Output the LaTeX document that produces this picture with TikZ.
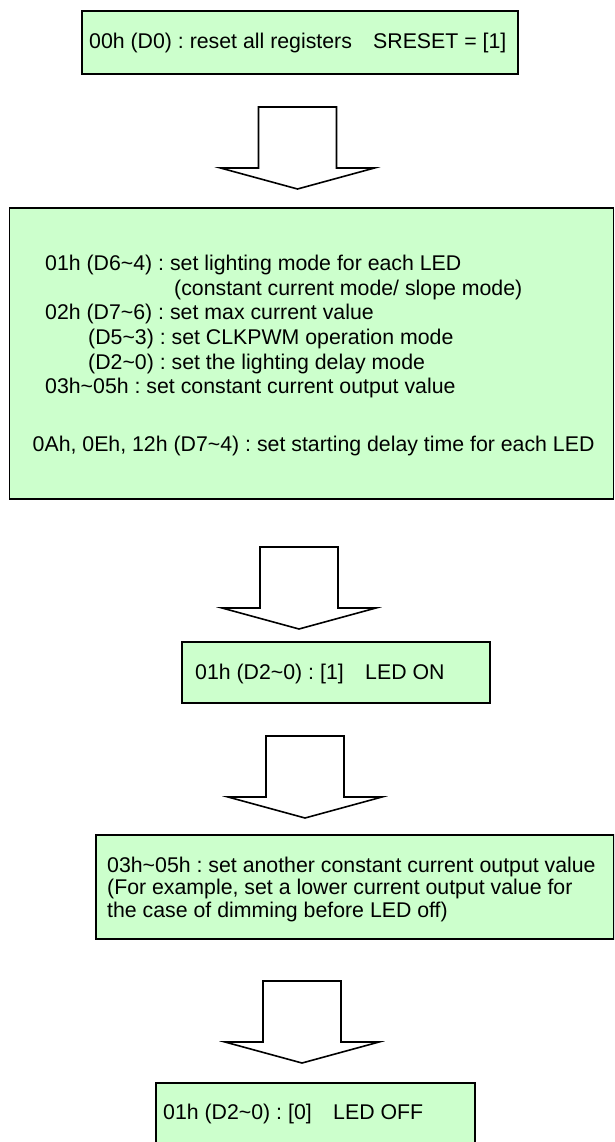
\documentclass[tikz,border=0pt]{standalone}
\usepackage{fontspec}
\setmainfont{Liberation Sans}
\usetikzlibrary{positioning}
\definecolor{boxgreen}{HTML}{CCFFCC}
\newcommand{\rng}{\textasciitilde}
\frenchspacing
\tikzset{
stepbox/.style={
    rectangle,
    draw,
    fill=boxgreen,
    line width=1.7pt,
    anchor=north west,
    inner sep=0pt
},
note/.style={
    anchor=base west,
    inner sep=0pt,
    font=\fontsize{21.3}{24.7}\selectfont
},
fat arrow/.pic={
    \draw[line width=1.6pt, fill=white, line join=miter]
      (0,0) -- (-77,-21) -- (-39,-21) -- (-39,-82) -- (39,-82)
      -- (39,-21) -- (77,-21) -- cycle;
}
}

\begin{document}
\begin{tikzpicture}[x=1pt,y=-1pt]
\useasboundingbox (0,0) rectangle (614,1142);
\clip (0,0) rectangle (614,1142);

% boxes
\node[stepbox, minimum width=436pt, minimum height=63pt] (reset) at (81,10) {};
\node[stepbox, minimum width=604pt, minimum height=291pt] (setup) at (8.6,207) {};
\node[stepbox, minimum width=308pt, minimum height=61pt] (ledon) at (181,641) {};
\node[stepbox, minimum width=518pt, minimum height=104pt] (dimming) at (95,834) {};
\node[stepbox, minimum width=319pt, minimum height=80pt] (ledoff) at (155,1082) {};

% texts
\node[note] (resettxt) at (89,49) {00h (D0) : reset all registers};
\node[note] (sreset) at (373,49) {SRESET = [1]};

\node[note] (mode) at (45,270) {01h (D6\rng 4) : set lighting mode for each LED};
\node[note] (modesub) at (174,295) {(constant current mode/ slope mode)};
\node[note] (maxcur) at (45,319) {02h (D7\rng 6) : set max current value};
\node[note] (clkpwm) at (88,344) {(D5\rng 3) : set CLKPWM operation mode};
\node[note] (delaymode) at (88,369) {(D2\rng 0) : set the lighting delay mode};
\node[note] (outval) at (45,393) {03h\rng 05h : set constant current output value};
\node[note] (delaytime) at (32.5,451) {0Ah, 0Eh, 12h (D7\rng 4) : set starting delay time for each LED};

\node[note] (ontxt) at (195,679) {01h (D2\rng 0) : [1]};
\node[note] (on) at (365,679) {LED ON};

\node[note] (dim1) at (107,872) {03h\rng 05h : set another constant current output value};
\node[note] (dim2) at (107,894.5) {(For example, set a lower current output value for};
\node[note] (dim3) at (107,917) {the case of dimming before LED off)};

\node[note] (offtxt) at (163,1119) {01h (D2\rng 0) : [0]};
\node[note] (off) at (333,1119) {LED OFF};

% block arrows between the steps
\coordinate (tip1) at (297.5,189);
\coordinate (tip2) at (299,629);
\coordinate (tip3) at (305,818);
\coordinate (tip4) at (302,1063);
\foreach \t in {tip1,tip2,tip3,tip4}
    \pic at (\t) {fat arrow};

\end{tikzpicture}
\end{document}
